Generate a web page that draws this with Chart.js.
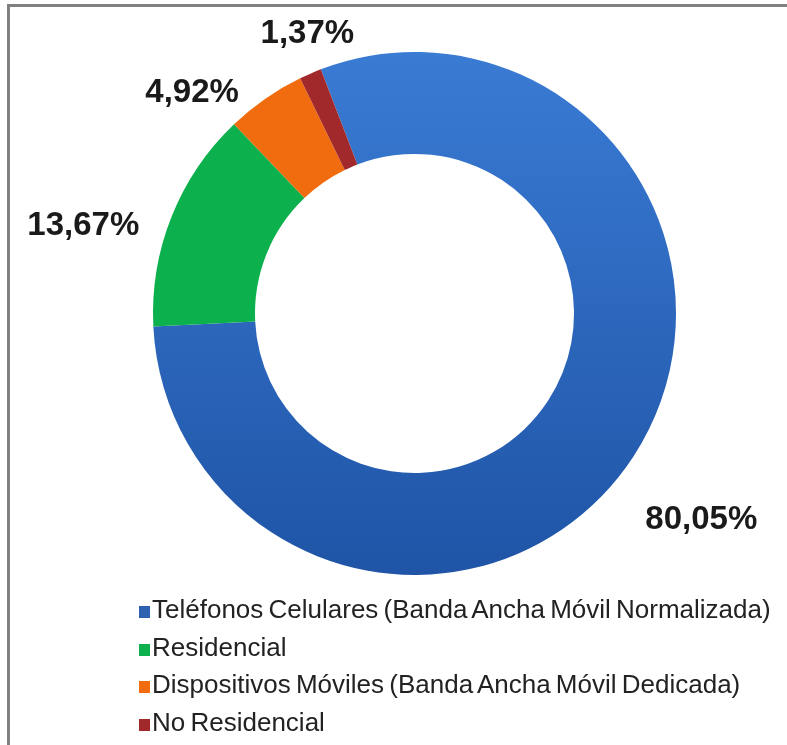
<!DOCTYPE html>
<html>
<head>
<meta charset="utf-8">
<script src="https://cdn.jsdelivr.net/npm/chart.js@4.4.1/dist/chart.umd.min.js"></script>
<style>
  html, body { margin: 0; padding: 0; background: #fff; }
  #wrap { position: relative; width: 787px; height: 745px; overflow: hidden; }
  #frame {
    position: absolute; left: 7px; top: 4px; width: 800px; height: 760px;
    border-top: 3px solid #808080; border-left: 3px solid #808080;
  }
  #chart { position: absolute; left: 0; top: 0; }
  #legend {
    position: absolute; left: 139px; top: 594px; margin: 0; padding: 0; list-style: none;
    font-family: "Liberation Sans", Arial, sans-serif; font-size: 26px; color: #222;
    word-spacing: -2px;
  }
  #legend li { height: 37.5px; line-height: 30px; white-space: nowrap; }
  #legend span.box { display: inline-block; width: 11px; height: 12px; margin-right: 2px; vertical-align: 0px; }
</style>
</head>
<body>
<div id="wrap">
  <div id="frame"></div>
  <canvas id="chart" width="787" height="745"></canvas>
  <ul id="legend"></ul>
</div>
<script>
const categories = [
    "Teléfonos Celulares (Banda Ancha Móvil Normalizada)",
    "Residencial",
    "Dispositivos Móviles (Banda Ancha Móvil Dedicada)",
    "No Residencial"
]
const shares = [80.05, 13.67, 4.92, 1.37]
const colors = ["#2f68c0", "#0cb04c", "#f06c0e", "#a1292c"]

// label placement tweaks: angle nudge (deg) and distance past the outer edge (px)
const labelNudge = [2.7, -7, -10.4, 2.5]
const labelGap = [92, 81, 52, 38]

const fmt = v => v.toFixed(2).replace(".", ",") + "%"

const blueFill = (context) => {
    const chart = context.chart
    const area = chart.chartArea
    if (!area) return colors[0]
    const g = chart.ctx.createLinearGradient(0, area.top, 0, area.bottom)
    g.addColorStop(0, "#3a7bd4")
    g.addColorStop(1, "#1f54a6")
    return g
}

const outsideLabels = {
    id: "outsideLabels",
    afterDatasetsDraw(chart) {
        const ctx = chart.ctx
        const meta = chart.getDatasetMeta(0)
        ctx.save()
        ctx.font = "bold 33px 'Liberation Sans', Arial, sans-serif"
        ctx.fillStyle = "#1a1a1a"
        ctx.textAlign = "center"
        ctx.textBaseline = "middle"
        meta.data.forEach((arc, i) => {
            const mid = (arc.startAngle + arc.endAngle) / 2 + labelNudge[i] * Math.PI / 180
            const d = arc.outerRadius + labelGap[i]
            ctx.fillText(fmt(shares[i]), arc.x + d * Math.cos(mid), arc.y + d * Math.sin(mid))
        })
        ctx.restore()
    }
}

const chart = new Chart(document.getElementById("chart"), {
    type: "doughnut",
    data: {
        labels: categories,
        datasets: [{
            data: shares,
            backgroundColor: (c) => c.dataIndex === 0 ? blueFill(c) : colors[c.dataIndex],
            borderWidth: 0
        }]
    },
    options: {
        responsive: false,
        animation: false,
        rotation: -21,
        cutout: "61%",
        layout: { padding: { left: 153, top: 52, right: 111, bottom: 170 } },
        plugins: {
            legend: { display: false },
            tooltip: { enabled: false }
        }
    },
    plugins: [outsideLabels]
})

const legendList = document.getElementById("legend")
categories.forEach((name, i) => {
    const li = document.createElement("li")
    const box = document.createElement("span")
    box.className = "box"
    box.style.background = i === 0 ? "#2d62b0" : colors[i]
    li.appendChild(box)
    li.appendChild(document.createTextNode(name))
    legendList.appendChild(li)
})
</script>
</body>
</html>
